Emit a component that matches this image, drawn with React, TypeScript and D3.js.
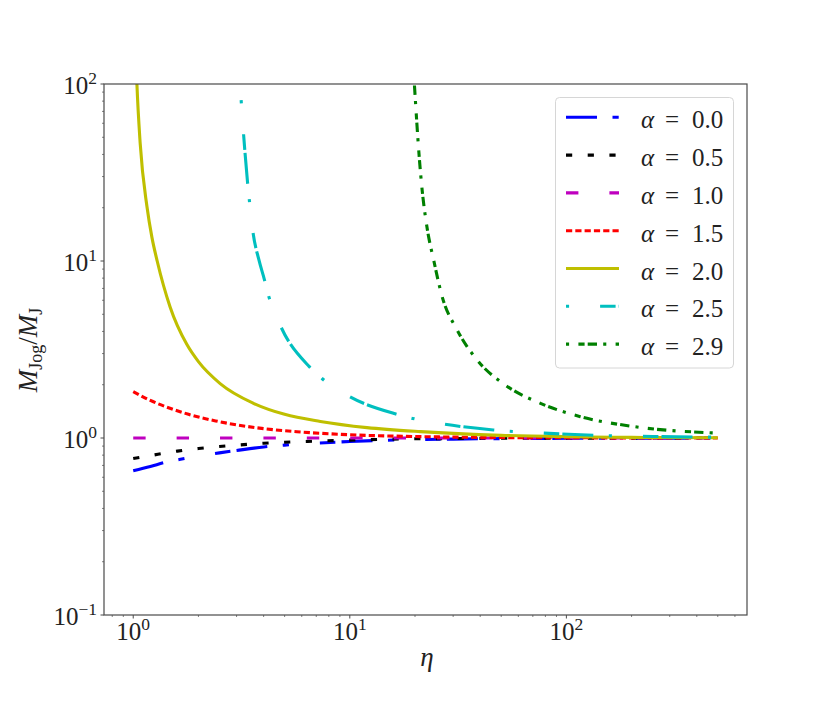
import React from "react";
import * as d3 from "d3";

// values
const alphaLabels = ["0.0", "0.5", "1.0", "1.5", "2.0", "2.5", "2.9"];

const etaA00 = [1, 1.2, 1.4, 1.7, 2, 2.5, 3, 4, 5, 7, 10, 15, 20, 30, 50, 100, 200, 500];
const massA00 = [0.653, 0.69, 0.728, 0.763, 0.79, 0.824, 0.85, 0.89, 0.912, 0.935, 0.955, 0.972, 0.979, 0.986, 0.992, 0.996, 0.998, 0.999];

const etaA05 = [1, 1.3, 1.6, 2, 2.5, 3, 4, 5, 7, 10, 15, 20, 30, 50, 100, 200, 500];
const massA05 = [0.765, 0.809, 0.843, 0.872, 0.895, 0.911, 0.934, 0.947, 0.96, 0.973, 0.984, 0.99, 0.993, 0.996, 0.998, 0.999, 1.0];

const etaA10 = [1, 2, 5, 10, 20, 50, 100, 200, 500];
const massA10 = [1, 1, 1, 1, 1, 1, 1, 1, 1];

const etaA15 = [1, 1.2, 1.5, 1.8, 2.4, 3, 4, 5.7, 8, 10, 15, 20, 30, 50, 100, 200, 500];
const massA15 = [1.83, 1.63, 1.463, 1.361, 1.249, 1.187, 1.13, 1.085, 1.057, 1.043, 1.027, 1.019, 1.012, 1.006, 1.003, 1.0015, 1.0005];

const etaA20 = [1.02, 1.04, 1.077, 1.157, 1.22, 1.29, 1.48, 1.77, 2, 2.52, 3.59, 5, 7.31, 12, 21.2, 50, 100, 200, 500];
const massA20 = [200, 100, 46, 20.3, 13.6, 10, 5.5, 3.37, 2.7, 2.03, 1.57, 1.36, 1.24, 1.145, 1.086, 1.035, 1.017, 1.008, 1.003];

const etaA25 = [3.15, 3.23, 3.37, 3.43, 3.57, 3.8, 4.03, 4.22, 4.82, 6.5, 7.44, 10, 16.2, 19.5, 27, 46, 79, 134, 250, 500];
const massA25 = [81, 52.6, 28, 22.6, 14.6, 10.2, 7.88, 6.34, 4.22, 2.53, 2.17, 1.71, 1.37, 1.29, 1.2, 1.11, 1.065, 1.036, 1.02, 1.01];

const etaA29 = [19.6, 19.9, 20.8, 21.5, 22.7, 24.4, 26.7, 31.3, 38.7, 52.3, 75.9, 116, 205, 500];
const massA29 = [130, 96.6, 42.4, 26.3, 15.6, 10.1, 6.28, 4.08, 2.76, 1.99, 1.57, 1.32, 1.16, 1.066];

const etaSeries = [etaA00, etaA05, etaA10, etaA15, etaA20, etaA25, etaA29];
const massSeries = [massA00, massA05, massA10, massA15, massA20, massA25, massA29];

const xMajor = [1, 10, 100];
const xMajorExp = ["0", "1", "2"];
const yMajor = [0.1, 1, 10, 100];
const yMajorExp = ["\u22121", "0", "1", "2"];

// styles
const lw = 3.1;
const colors = ["#0000ff", "#000000", "#bf00bf", "#ff0000", "#bfbf00", "#00bfbf", "#008000"];
const dashes = [
  [10, 5, 2, 10, 5, 2],
  [2, 5],
  [4, 10],
  [2, 1],
  null,
  [1, 10, 5, 1, 10, 5],
  [1, 3, 2, 1, 3, 2],
];

const W = 830;
const H = 703;
const L = 104;
const R = 747;
const T = 84;
const B = 615;
const FONT = "'Liberation Serif', 'DejaVu Serif', serif";

export default function App() {
  const lo = Math.log10(1);
  const hi = Math.log10(500);
  const pad = 0.05 * (hi - lo);
  const x = d3.scaleLog().domain([10 ** (lo - pad), 10 ** (hi + pad)]).range([L, R]);
  const y = d3.scaleLog().domain([0.1, 100]).range([B, T]);

  const line = d3
    .line<[number, number]>()
    .x((d) => x(d[0]))
    .y((d) => y(d[1]))
    .curve(d3.curveMonotoneX);

  const xTicks = x.ticks();
  const yTicks = y.ticks();
  const isMajor = (v: number) => Math.abs(Math.log10(v) - Math.round(Math.log10(v))) < 1e-9;

  const legendX = 566;
  const legendLen = 53;
  const rowY = (i: number) => 117.3 + i * 37.8;

  return (
    <svg
      width={W}
      height={H}
      style={{ position: "absolute", left: 0, top: 0, background: "#fff" }}
      fontFamily={FONT}
    >
      <defs>
        <clipPath id="plot-clip">
          <rect x={L} y={T} width={R - L} height={B - T} />
        </clipPath>
      </defs>
      <rect x={0} y={0} width={W} height={H} fill="#fff" />

      {/* curves */}
      <g clipPath="url(#plot-clip)">
        {etaSeries.map((etas, i) => {
          const pts = etas.map((e, j) => [e, massSeries[i][j]] as [number, number]);
          const d = dashes[i];
          return (
            <path
              key={i}
              d={line(pts) || ""}
              fill="none"
              stroke={colors[i]}
              strokeWidth={lw}
              strokeDasharray={d ? d.map((v) => v * lw).join(" ") : undefined}
            />
          );
        })}
      </g>

      {/* spines */}
      <rect x={L} y={T} width={R - L} height={B - T} fill="none" stroke="#4a4a4a" strokeWidth={1.2} />

      {/* x ticks */}
      {xTicks.map((t, i) => (
        <line
          key={"xt" + i}
          x1={x(t)}
          x2={x(t)}
          y1={B}
          y2={B + (isMajor(t) ? 3.5 : 2)}
          stroke="#4a4a4a"
          strokeWidth={isMajor(t) ? 1 : 0.7}
        />
      ))}
      {xMajor.map((t, i) => (
        <text key={"xl" + i} x={x(t)} y={640} textAnchor="middle" fontSize={25} fill="#222">
          10
          <tspan fontSize={17.5} dy={-10}>
            {xMajorExp[i]}
          </tspan>
        </text>
      ))}

      {/* y ticks */}
      {yTicks.map((t, i) => (
        <line
          key={"yt" + i}
          x1={L}
          x2={L - (isMajor(t) ? 3.5 : 2)}
          y1={y(t)}
          y2={y(t)}
          stroke="#4a4a4a"
          strokeWidth={isMajor(t) ? 1 : 0.7}
        />
      ))}
      {yMajor.map((t, i) => (
        <text key={"yl" + i} x={97} y={y(t) + 9.5} textAnchor="end" fontSize={25} fill="#222">
          10
          <tspan fontSize={17.5} dy={-10}>
            {yMajorExp[i]}
          </tspan>
        </text>
      ))}

      {/* axis labels */}
      <text x={427} y={666} textAnchor="middle" fontSize={27} fontStyle="italic" fill="#222">
        η
      </text>
      <text transform="translate(37,350) rotate(-90)" textAnchor="middle" fontSize={27} fill="#222">
        <tspan fontStyle="italic">M</tspan>
        <tspan fontSize={18} dy={5}>Jog</tspan>
        <tspan dy={-5}>/</tspan>
        <tspan fontStyle="italic">M</tspan>
        <tspan fontSize={18} dy={5}>J</tspan>
      </text>

      {/* legend */}
      <rect x={555.5} y={97.5} width={178} height={270.5} rx={4} fill="#fff" fillOpacity={0.8} stroke="#d6d6d6" strokeWidth={1} />
      {alphaLabels.map((lab, i) => {
        const d = dashes[i];
        const yy = rowY(i);
        return (
          <g key={"lg" + i}>
            <line
              x1={legendX}
              x2={legendX + legendLen}
              y1={yy}
              y2={yy}
              stroke={colors[i]}
              strokeWidth={lw}
              strokeDasharray={d ? d.map((v) => v * lw).join(" ") : undefined}
            />
            <text x={641} y={yy + 11} fontSize={25} fontStyle="italic" fill="#222">
              α
            </text>
            <text x={672} y={yy + 11} fontSize={25} textAnchor="middle" fill="#222">
              =
            </text>
            <text x={692} y={yy + 11} fontSize={25} fill="#222">
              {lab}
            </text>
          </g>
        );
      })}
    </svg>
  );
}
